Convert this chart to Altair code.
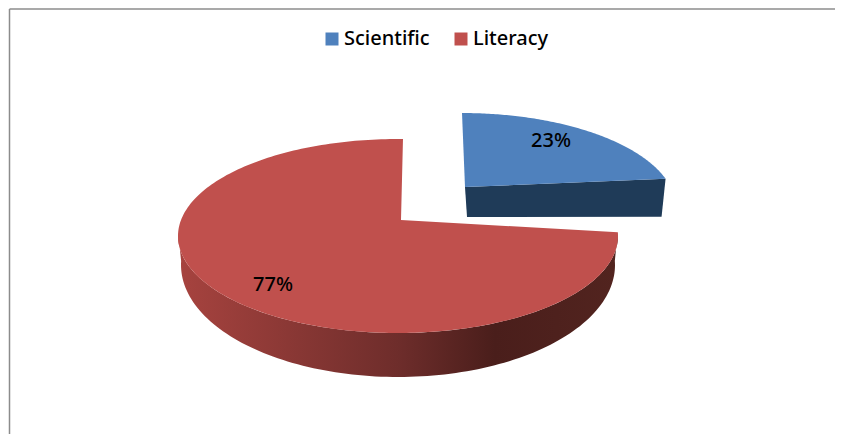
import math
import altair as alt
import pandas as pd

# ---- values
categories = ["Scientific", "Literacy"]
shares = [23, 77]
legend_colors = ["#4f81bd", "#c0504d"]

FONT = "Noto Sans"

# ---- geometry of the tilted pie, in the picture's pixel frame
RED = dict(ax=401, ay=220, cx=398, cy=236, rx=220, ry=97, low_cy=265, low_rx=217, low_ry=112)
BLUE = dict(ax=465, ay=187, cx=462, cy=208, rx=214, ry=95)
# the perspective compresses the angular sweep of each slice
BLUE_TILT = 0.87
RED_TILT = 1.06


def ellipse(c, t, cx="cx", cy="cy", rx="rx", ry="ry"):
    a = math.radians(t)
    return c[cx] + c[rx] * math.sin(a), c[cy] - c[ry] * math.cos(a)


def frange(a, b, n=120):
    return [a + (b - a) * i / n for i in range(n + 1)]


def poly(points, cat):
    return [{"x": x, "y": y, "i": i, "cat": cat} for i, (x, y) in enumerate(points)]


blue_end = shares[0] * 3.6 * BLUE_TILT
red_start = shares[0] * 3.6 * RED_TILT
red_end = 361.3

blue_top = [(BLUE["ax"], BLUE["ay"])] + [ellipse(BLUE, t) for t in frange(0, blue_end)]
red_top = [(RED["ax"], RED["ay"])] + [ellipse(RED, t) for t in frange(red_start, red_end, 240)]

blue_right = ellipse(BLUE, blue_end)
blue_side = [(BLUE["ax"], BLUE["ay"]), blue_right, (blue_right[0] - 4, blue_right[1] + 38), (BLUE["ax"] + 2, BLUE["ay"] + 30)]

red_side = [ellipse(RED, t) for t in frange(red_start, 272)] + [
    ellipse(RED, t, cy="low_cy", rx="low_rx", ry="low_ry") for t in frange(272, red_start)
]

tops = pd.DataFrame(poly(blue_top, categories[0]) + poly(red_top, categories[1]))
x_scale = alt.Scale(domain=[8, 835], nice=False, zero=False)
y_scale = alt.Scale(domain=[434, 8], nice=False, zero=False)
X = alt.X("x:Q", scale=x_scale, axis=None)
Y = alt.Y("y:Q", scale=y_scale, axis=None)

side_blue = alt.Chart(pd.DataFrame(poly(blue_side, categories[0]))).mark_line(
    fill="#1f3b58", strokeWidth=0
).encode(x=X, y=Y, order="i:Q")

side_red = alt.Chart(pd.DataFrame(poly(red_side, categories[1]))).mark_line(
    fill=alt.Gradient(
        gradient="linear", x1=0, x2=1, y1=0, y2=0,
        stops=[
            alt.GradientStop(color="#a7433f", offset=0),
            alt.GradientStop(color="#6e2d2b", offset=0.5),
            alt.GradientStop(color="#4a1e1b", offset=0.72),
            alt.GradientStop(color="#52241f", offset=1),
        ],
    ),
    strokeWidth=0,
).encode(x=X, y=Y, order="i:Q")

top_faces = alt.Chart(tops).mark_line(strokeWidth=0).encode(
    x=X, y=Y, order="i:Q",
    fill=alt.Fill(
        "cat:N",
        scale=alt.Scale(domain=categories, range=legend_colors),
        sort=categories,
        legend=alt.Legend(
            title=None, orient="none", legendX=314, legendY=21, direction="horizontal",
            symbolType="square", symbolSize=169, symbolStrokeWidth=0,
            labelFont=FONT, labelFontSize=20, labelFontWeight=500, labelColor="#000000", labelOffset=2,
            columnPadding=21, padding=0,
        ),
    ),
)

labels = pd.DataFrame({
    "x": [551, 273], "y": [141, 285],
    "t": [f"{s}%" for s in shares],
})
text = alt.Chart(labels).mark_text(font=FONT, fontSize=20, fontWeight=500, color="#000000").encode(
    x=X, y=Y, text="t:N"
)

frame_top = alt.Chart(pd.DataFrame({"x": [9.5], "x2": [835], "y": [9]})).mark_rule(
    color="#8c8c8c", strokeWidth=1.5
).encode(x=X, x2="x2:Q", y=Y)
frame_left = alt.Chart(pd.DataFrame({"x": [9.5], "y": [9], "y2": [434]})).mark_rule(
    color="#8c8c8c", strokeWidth=1.5
).encode(x=X, y=Y, y2="y2:Q")

chart = (
    alt.layer(frame_top, frame_left, side_blue, side_red, top_faces, text)
    .properties(width=827, height=426, padding=0, autosize=alt.AutoSizeParams(type="none"))
    .configure_view(stroke=None)
)
chart.save("out.html", embed_options={"renderer": "svg", "actions": False})
